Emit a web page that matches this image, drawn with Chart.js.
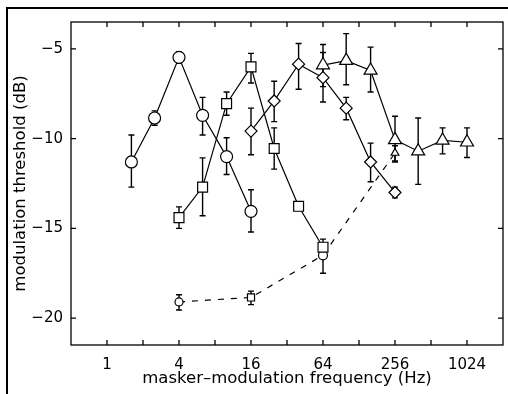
<!DOCTYPE html>
<html lang="en">
<head>
<meta charset="UTF-8">
<title>Modulation masking</title>
<script src="https://cdn.jsdelivr.net/npm/chart.js"></script>
<style>
  html, body { margin: 0; padding: 0; background: #fff; }
</style>
</head>
<body>
<canvas id="maskingChart" width="508" height="394"></canvas>
<script>
// axis ticks
const xTicks = [1, 2, 4, 8, 16, 32, 64, 128, 256, 512, 1024];
const xTickLabels = [1, 4, 16, 64, 256, 1024];
const yTicks = [-20, -15, -10, -5];

// circles (low masker band)
const freqA = [1.6, 2.5, 4, 6.3, 10, 16];
const threshA = [-11.3, -8.85, -5.47, -8.7, -11.0, -14.05];
const loA = [-12.7, -9.25, -5.8, -9.8, -12.0, -15.2];
const hiA = [-9.8, -8.45, -5.15, -7.7, -9.95, -12.85];

// squares
const freqB = [4, 6.3, 10, 16, 25, 40, 64];
const threshB = [-14.4, -12.7, -8.05, -6.0, -10.55, -13.77, -16.05];
const loB = [-15.0, -14.3, -8.7, -6.9, -11.7, -13.77, -16.5];
const hiB = [-13.8, -11.07, -7.4, -5.25, -9.4, -13.77, -15.6];

// diamonds
const freqC = [16, 25, 40, 64, 100, 160, 256];
const threshC = [-9.58, -7.9, -5.85, -6.6, -8.3, -11.3, -13.0];
const loC = [-10.9, -9.05, -7.25, -7.96, -8.95, -12.4, -13.3];
const hiC = [-8.3, -6.8, -4.7, -5.2, -7.7, -10.25, -12.7];

// triangles
const freqD = [64, 100, 160, 256, 400, 640, 1024];
const threshD = [-5.9, -5.65, -6.2, -10.07, -10.7, -10.1, -10.2];
const loD = [-7.1, -7.0, -7.4, -11.3, -12.55, -10.85, -11.05];
const hiD = [-4.75, -4.15, -4.9, -8.75, -8.85, -9.4, -9.4];

// dashed reference condition
const freqE = [4, 16, 64, 256];
const threshE = [-19.1, -18.85, -16.5, -10.8];
const loE = [-19.55, -19.25, -17.5, -11.25];
const hiE = [-18.7, -18.5, -15.9, -10.4];
const stylesE = ['circle', 'rect', 'circle', 'triangle'];

const FONT = 'DejaVu Sans';

function pts(xs, ys) {
  return xs.map((v, i) => ({ x: v, y: ys[i] }));
}

function series(xs, ys, lo, hi, style, radius, extra) {
  return Object.assign({
    data: pts(xs, ys),
    errLo: lo,
    errHi: hi,
    showLine: true,
    borderColor: '#000',
    borderWidth: 1.2,
    pointStyle: style,
    pointRadius: radius,
    pointBackgroundColor: '#fff',
    pointBorderColor: '#000',
    pointBorderWidth: 1.2,
    tension: 0
  }, extra || {});
}

// vertical error bars with caps, drawn under the markers
const errorBars = {
  id: 'errorBars',
  beforeDatasetsDraw(chart) {
    const { ctx, scales: { x, y } } = chart;
    ctx.save();
    ctx.strokeStyle = '#000';
    ctx.lineWidth = 1.4;
    chart.data.datasets.forEach(ds => {
      ds.data.forEach((p, i) => {
        if (ds.errLo[i] === ds.errHi[i]) return;
        const px = x.getPixelForValue(p.x);
        const lo = y.getPixelForValue(ds.errLo[i]);
        const hi = y.getPixelForValue(ds.errHi[i]);
        ctx.beginPath();
        ctx.moveTo(px, lo); ctx.lineTo(px, hi);
        ctx.moveTo(px - 3, lo); ctx.lineTo(px + 3, lo);
        ctx.moveTo(px - 3, hi); ctx.lineTo(px + 3, hi);
        ctx.stroke();
      });
    });
    ctx.restore();
  }
};

// matlab-style box with inward ticks, plus outer frame
const boxAndTicks = {
  id: 'boxAndTicks',
  afterDraw(chart) {
    const { ctx, chartArea: a, scales: { x, y } } = chart;
    ctx.save();
    ctx.strokeStyle = '#000';
    ctx.lineWidth = 2;
    ctx.beginPath();
    ctx.moveTo(7, 394); ctx.lineTo(7, 8); ctx.lineTo(508, 8);
    ctx.stroke();
    ctx.lineWidth = 1.3;
    ctx.strokeRect(a.left, a.top, a.right - a.left, a.bottom - a.top);
    const len = 5;
    ctx.beginPath();
    xTicks.forEach(v => {
      const px = x.getPixelForValue(v);
      ctx.moveTo(px, a.bottom); ctx.lineTo(px, a.bottom - len);
      ctx.moveTo(px, a.top); ctx.lineTo(px, a.top + len);
    });
    yTicks.forEach(v => {
      const py = y.getPixelForValue(v);
      ctx.moveTo(a.left, py); ctx.lineTo(a.left + len, py);
      ctx.moveTo(a.right, py); ctx.lineTo(a.right - len, py);
    });
    ctx.stroke();
    ctx.restore();
  }
};

const ctx = document.getElementById('maskingChart').getContext('2d');
new Chart(ctx, {
  type: 'scatter',
  data: {
    datasets: [
      series(freqA, threshA, loA, hiA, 'circle', 6),
      series(freqB, threshB, loB, hiB, 'rect', 7),
      series(freqC, threshC, loC, hiC, 'rectRot', 6),
      series(freqD, threshD, loD, hiD, 'triangle', 7.5),
      series(freqE, threshE, loE, hiE, stylesE, [4, 5, 4.5, 4.5], { borderDash: [6, 7] })
    ]
  },
  options: {
    responsive: false,
    animation: false,
    devicePixelRatio: 1,
    layout: { autoPadding: false, padding: { left: 0, right: 5, top: 22, bottom: 0 } },
    plugins: {
      legend: { display: false },
      tooltip: { enabled: false }
    },
    scales: {
      x: {
        type: 'logarithmic',
        min: 0.5,
        max: 2048,
        afterBuildTicks: s => { s.ticks = xTicks.map(v => ({ value: v })); },
        afterFit: s => { s.height = 49; s.paddingLeft = 0; s.paddingRight = 0; },
        grid: { display: false },
        border: { display: false },
        ticks: {
          autoSkip: false,
          maxRotation: 0,
          padding: 3,
          color: '#000',
          font: { family: FONT, size: 15 },
          callback: v => (xTickLabels.includes(v) ? String(v) : '')
        },
        title: {
          display: true,
          text: 'masker\u2013modulation frequency (Hz)',
          color: '#000',
          font: { family: FONT, size: 16.5 },
          padding: { top: 0, bottom: 5 }
        }
      },
      y: {
        min: -21.5,
        max: -3.5,
        afterBuildTicks: s => { s.ticks = yTicks.map(v => ({ value: v })); },
        afterFit: s => { s.width = 71; s.paddingTop = 0; s.paddingBottom = 0; },
        grid: { display: false },
        border: { display: false },
        ticks: {
          padding: 0,
          color: '#000',
          font: { family: FONT, size: 15 },
          callback: v => '\u2212' + Math.abs(v)
        },
        title: {
          display: true,
          text: 'modulation threshold (dB)',
          color: '#000',
          font: { family: FONT, size: 16.5 },
          padding: { top: 11, bottom: 0 }
        }
      }
    }
  },
  plugins: [errorBars, boxAndTicks]
});
</script>
</body>
</html>
